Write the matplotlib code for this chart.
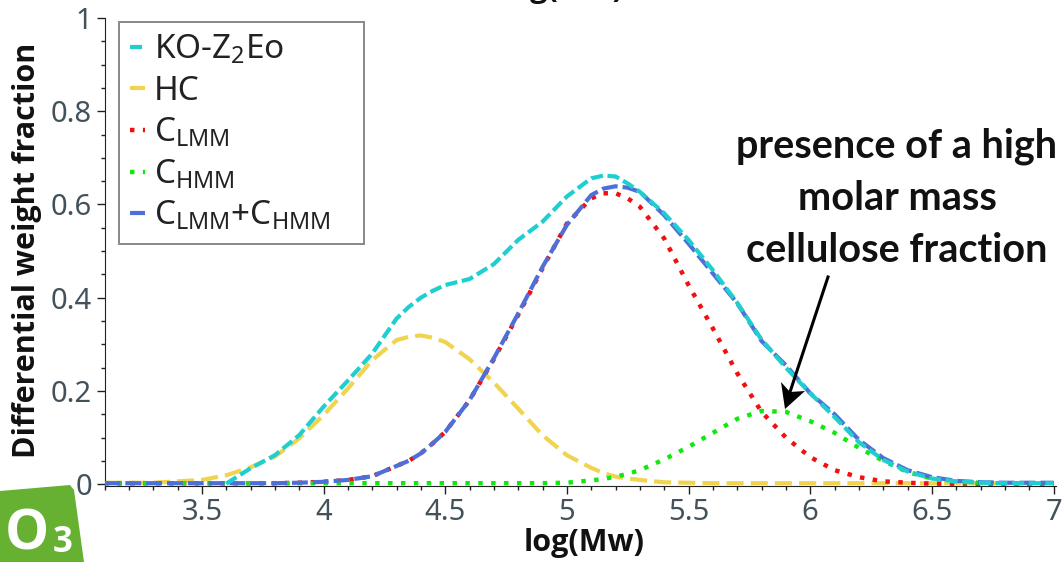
import numpy as np
import matplotlib
matplotlib.use('Agg')
import matplotlib.pyplot as plt
from matplotlib.patches import Polygon
from matplotlib.lines import Line2D

W, H = 1063, 562

# values
x_all = [3.1, 3.3, 3.5, 3.6, 3.7, 3.8, 3.9, 4.0, 4.1, 4.2, 4.3, 4.35, 4.4, 4.45, 4.5, 4.6, 4.7, 4.8, 4.9, 5.0, 5.1, 5.15, 5.2, 5.25,
         5.3, 5.4, 5.5, 5.6, 5.7, 5.8, 5.9, 6.0, 6.1, 6.2, 6.3, 6.4, 6.5, 6.6, 6.7, 6.8, 7.0]
ko = [np.nan, np.nan, np.nan, .001, .034, .062, .105, .166, .222, .28, .355, .38, .40, .415, .427, .44, .472, .524, .563, .617, .656, .662, .66, .645,
      .627, .581, .524, .459, .389, .31, .25, .195, .144, .09, .052, .027, .012, .006, .003, .002, .002]
hc = [.003, .003, .009, .019, .036, .059, .098, .148, .205, .266, .309, .316, .319, .314, .305, .268, .218, .162, .105, .062, .035, .024, .016, .012,
      .009, .004, .003, .002, .002, .002, .002, .002, .002, .002, .002, .002, .002, .002, .002, .002, .002]
c_lmm = [.002, .002, .002, .002, .002, .002, .003, .005, .009, .017, .039, .05, .066, .088, .112, .18, .268, .363, .463, .559, .613, .624, .624, .613,
         .595, .527, .427, .334, .238, .155, .10, .058, .03, .015, .006, .003, .001, .001, .001, .001, .001]
c_hmm = [.002, .002, .002, .002, .002, .002, .002, .002, .002, .002, .002, .002, .002, .002, .002, .002, .002, .002, .002, .003, .008, .011, .016, .022,
         .03, .053, .08, .11, .14, .157, .155, .135, .11, .078, .05, .026, .012, .005, .003, .002, .002]
c_sum = [.002, .002, .002, .002, .002, .002, .003, .005, .009, .017, .039, .05, .066, .088, .112, .18, .27, .366, .466, .556, .62, .634, .639, .636,
         .627, .577, .516, .452, .388, .307, .255, .195, .15, .095, .056, .03, .015, .007, .004, .003, .003]

x_ticks = [3.5, 4, 4.5, 5, 5.5, 6, 6.5, 7]
x_labels = ['3.5', '4', '4.5', '5', '5.5', '6', '6.5', '7']
y_ticks = [0, 0.2, 0.4, 0.6, 0.8, 1]
y_labels = ['0', '0.2', '0.4', '0.6', '0.8', '1']


def px(x, y):
    return (x/W, 1-y/H)


plt.rcParams['mathtext.default'] = 'regular'
plt.rcParams['font.family'] = ['Noto Sans', 'DejaVu Sans']

fig = plt.figure(figsize=(W/100, H/100), dpi=100)
ax_w = 1056-104.5
ax_h = 486-18
ax = fig.add_axes([104.5/W, 1-486/H, ax_w/W, ax_h/H])
ax.set_xlim(3.1, 7.01)
ax.set_ylim(-0.004, 1)

ax.plot(x_all, ko, color='#1fcfd0', lw=3, dashes=(2.9, 1.1), label='KO-Z$_2$Eo', zorder=5)
ax.plot(x_all, hc, color='#f0d450', lw=3, dashes=(4.1, 1.7), label='HC', zorder=2)
ax.plot(x_all, c_lmm, color='#f01010', lw=3.2, dashes=(1, 1.9), label='C$_{LMM}$', zorder=3)
ax.plot(x_all, c_hmm, color='#10e810', lw=3.2, dashes=(1, 1.9), label='C$_{HMM}$', zorder=3)
ax.plot(x_all, c_sum, color='#4f6fd8', lw=3, dashes=(3.8, 1.2), label='C$_{LMM}$+C$_{HMM}$', zorder=4)

ax.spines['top'].set_visible(False)
ax.spines['right'].set_visible(False)
ax.spines['left'].set_color('#222222')
ax.spines['bottom'].set_color('#222222')

ax.set_xticks(x_ticks)
ax.set_xticklabels(x_labels)
ax.set_yticks(y_ticks)
ax.set_yticklabels(y_labels)
ax.set_xticks(np.arange(3.1, 7.05, 0.1), minor=True)
ax.set_yticks(np.arange(0, 1.01, 0.05), minor=True)
ax.tick_params(which='major', length=6, width=1, color='#222222', labelsize=21, labelcolor='#43525a', pad=3)
ax.tick_params(which='minor', length=3.2, width=1, color='#222222')

fig.text(*px(584, 543), 'log(Mw)', fontsize=22, fontweight='bold', family='Open Sans', color='#111111',
         ha='center', va='center')
fig.text(*px(27, 250), 'Differential weight fraction', rotation=90, fontsize=22, fontweight='bold',
         family='Open Sans', color='#111111', ha='center', va='center')

leg = ax.legend(loc='lower left', mode='expand',
                bbox_to_anchor=((119-104.5)/ax_w, (486-244)/ax_h, 245/ax_w, 224/ax_h),
                fontsize=24, handlelength=0.44, handletextpad=0.27, labelspacing=0.25,
                borderpad=0.33, borderaxespad=0, fancybox=False, framealpha=1, edgecolor='#888888')
leg.get_frame().set_linewidth(1.4)
leg.set_zorder(6)
for t in leg.get_texts():
    t.set_color('#222222')

# annotation
fig.text(*px(897, 198), 'presence of a high\nmolar mass\ncellulose fraction', fontsize=28.5, fontweight='bold',
         family='Lato', color='#111111', ha='center', va='center', linespacing=1.5)
fig.add_artist(Line2D([828/W, 790/W], [1-277/H, 1-392/H], color='black', lw=2.2, zorder=7))
fig.add_artist(Polygon([px(785, 409), px(781, 382), px(790, 392), px(805, 391)], closed=True,
                       transform=fig.transFigure, facecolor='black', edgecolor='none', zorder=7))

# title of the original, cut by the crop
fig.text(*px(563, -11), 'log(Mw)', fontsize=22, fontweight='bold', family='Open Sans', color='#111111',
         ha='center', va='center')

# O3 logo
logo = Polygon([px(0, 491), px(70, 485), px(74, 490), px(84, 562), px(0, 562)], closed=True,
               transform=fig.transFigure, facecolor='#66b132', edgecolor='none', zorder=8)
fig.add_artist(logo)
fig.text(*px(27, 535), 'O', fontsize=40, fontweight='bold', family='Open Sans', color='white',
         ha='center', va='center', zorder=9)
fig.text(*px(63, 543), '3', fontsize=25, fontweight='bold', family='Open Sans', color='white',
         ha='center', va='center', zorder=9)

fig.savefig('out.png', dpi=100)
